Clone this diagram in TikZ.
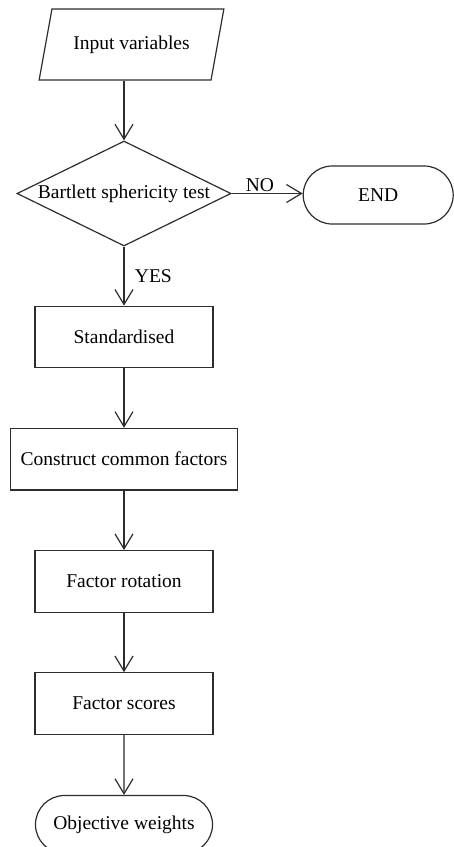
\documentclass[tikz,border=0pt]{standalone}
\usepackage{fontspec}
\setmainfont{Liberation Serif}
\usetikzlibrary{positioning,shapes.geometric,shapes.misc,arrows.meta}
\definecolor{lineColor}{RGB}{45,45,45}

\begin{document}
\begin{tikzpicture}[x=1pt,y=-1pt,font=\fontsize{19.5}{23}\selectfont]
  	\tikzstyle{io} = [trapezium,trapezium left angle=62,trapezium right angle=118,trapezium stretches=true,draw=lineColor,line width=1.2pt,minimum width=185pt,minimum height=71pt,inner sep=0pt]
  	\tikzstyle{decision} = [diamond,draw=lineColor,line width=1.2pt,aspect=2.04,minimum width=214pt,minimum height=105pt,inner sep=0pt]
  	\tikzstyle{process} = [rectangle,draw=lineColor,line width=1.2pt,minimum width=178pt,minimum height=61.5pt,inner sep=0pt,node distance=59.5pt]
  	\tikzstyle{terminal} = [rounded rectangle,draw=lineColor,line width=1.2pt,minimum height=58pt,inner sep=0pt]
  	\tikzstyle{flow} = [->,draw=lineColor,line width=1.2pt]
  	\tikzset{>={Straight Barb[length=15pt,width=18pt]}}

    \useasboundingbox (0,0) rectangle (454,847);

    \node [io] (input) at (131.5,44.5) {Input variables};
    \node [decision] (test) at (124,193.5) {Bartlett sphericity test};
    \node [terminal, minimum width=150pt, right=71pt of test, yshift=-1.5pt] (end) {END};

    \node [process, below=59pt of test] (std) {Standardised};
    \node [process, minimum width=227pt, below=of std] (common) {Construct common factors};
    \node [process, below=of common] (rotation) {Factor rotation};
    \node [process, below=of rotation] (scores) {Factor scores};
    \node [terminal, minimum width=177pt, below=60pt of scores] (weights) {Objective weights};

    \draw [flow] (input.south -| test.north) -- (test.north);
    \draw [flow] (test.east) -- node [pos=0.4, above, inner sep=1.5pt] {NO} (test.east -| end.west);
    \draw [flow] (test.south) -- node [right=7pt] {YES} (std.north);
    \draw [flow] (std) -- (common);
    \draw [flow] (common) -- (rotation);
    \draw [flow] (rotation) -- (scores);
    \draw [flow] (scores) -- (weights);

  \end{tikzpicture}
\end{document}
